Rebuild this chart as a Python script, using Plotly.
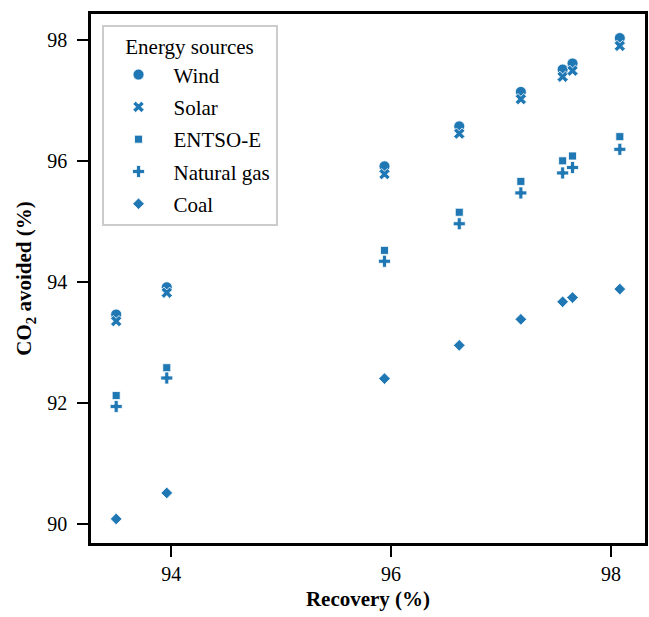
import plotly.graph_objects as go

recovery = [93.50, 93.96, 95.94, 96.62, 97.18, 97.56, 97.65, 98.08]
wind = [93.47, 93.92, 95.92, 96.58, 97.15, 97.52, 97.62, 98.04]
solar = [93.36, 93.83, 95.79, 96.46, 97.03, 97.40, 97.50, 97.91]
entsoe = [92.13, 92.59, 94.53, 95.16, 95.67, 96.01, 96.09, 96.41]
natural_gas = [91.95, 92.42, 94.35, 94.97, 95.48, 95.81, 95.90, 96.20]
coal = [90.09, 90.52, 92.41, 92.96, 93.39, 93.68, 93.75, 93.89]

series_names = ["Wind", "Solar", "ENTSO-E", "Natural gas", "Coal"]
series_values = [wind, solar, entsoe, natural_gas, coal]
symbols = ["circle", "x", "square", "cross", "diamond"]
sizes = [11, 10, 8, 10, 9]

COLOR = "#1f77b4"
FONT = "Liberation Serif, Times New Roman, DejaVu Serif, serif"

fig = go.Figure()
for name, vals, sym, sz in zip(series_names, series_values, symbols, sizes):
    fig.add_trace(go.Scatter(
        x=recovery, y=vals, mode="markers", name=name, legendgroup=name,
        marker=dict(symbol=sym, size=sz, color=COLOR,
                    line=dict(color="white", width=0.8)),
    ))

xmin, xmax = min(recovery), max(recovery)
allv = [v for s in series_values for v in s]
ymin, ymax = min(allv), max(allv)
xm = (xmax - xmin) * 0.05
ym = (ymax - ymin) * 0.05

axis_common = dict(
    showgrid=False, zeroline=False, showline=True, mirror=True,
    linecolor="black", linewidth=2.5, ticks="outside", ticklen=11,
    tickwidth=2, tickcolor="black", dtick=2, tick0=0,
    tickfont=dict(family=FONT, size=20, color="black"),
)

fig.update_layout(
    width=649, height=617,
    margin=dict(l=91, r=1, t=14, b=74),
    plot_bgcolor="white", paper_bgcolor="white",
    font=dict(family=FONT, color="black"),
    xaxis=dict(range=[xmin - xm, xmax + xm],
               title=dict(text="<b>Recovery (%)</b>", standoff=8,
                          font=dict(family=FONT, size=21, color="black")),
               **axis_common),
    yaxis=dict(range=[ymin - ym, ymax + ym], ticklabelstandoff=6,
               title=dict(text="<b>CO<sub>2</sub> avoided (%)</b>", standoff=10,
                          font=dict(family=FONT, size=21, color="black")),
               **axis_common),
    legend=dict(
        title=dict(text="Energy sources", side="top center",
                   font=dict(family=FONT, size=21, color="black")),
        font=dict(family=FONT, size=21, color="black"),
        x=0.019, y=0.979, xanchor="left", yanchor="top",
        bgcolor="white", bordercolor="#cccccc", borderwidth=2,
        itemwidth=60, tracegroupgap=2,
    ),
    showlegend=True,
)

fig.write_html("out.html")
